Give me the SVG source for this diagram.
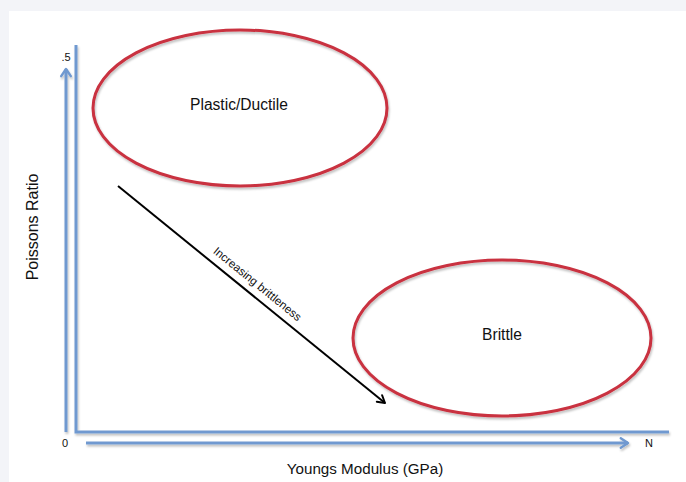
<svg xmlns="http://www.w3.org/2000/svg" width="686" height="482" viewBox="0 0 686 482">
<defs>
<style>
.ax{stroke:#7099d0;stroke-width:3;fill:none;stroke-linecap:butt}
.el{fill:none;stroke:#c9303f;stroke-width:3}
.t{font-family:"Liberation Sans",Arial,sans-serif;fill:#111}
</style>
<filter id="sh" x="-10%" y="-10%" width="120%" height="120%">
<feDropShadow dx="1" dy="2" stdDeviation="1.2" flood-color="#000" flood-opacity="0.25"/>
</filter>
<marker id="ba" viewBox="0 0 10 10" refX="8" refY="5" markerWidth="4" markerHeight="4" orient="auto" markerUnits="strokeWidth">
<path d="M2,1 L8,5 L2,9" fill="none" stroke="#7099d0" stroke-width="2" stroke-linecap="round" stroke-linejoin="round"/>
</marker>
<marker id="ka" viewBox="0 0 10 10" refX="8" refY="5" markerWidth="6" markerHeight="6" orient="auto" markerUnits="strokeWidth">
<path d="M2,1.5 L8,5 L2,8.5" fill="none" stroke="#000" stroke-width="1.6" stroke-linecap="round" stroke-linejoin="round"/>
</marker>
</defs>
<rect width="686" height="482" fill="#f3f4f8"/>
<rect x="9" y="11" width="677" height="471" fill="#fff"/>
<g id="axes" filter="url(#sh)">
<polyline class="ax" points="76,45 76,432 669,432"/>
<line class="ax" x1="66" y1="432" x2="66" y2="69" marker-end="url(#ba)"/>
<line class="ax" x1="86" y1="443" x2="628" y2="443" marker-end="url(#ba)"/>
</g>
<g id="axis-labels">
<text class="t" x="66" y="61" font-size="11" text-anchor="middle">.5</text>
<text class="t" x="65" y="447" font-size="11" text-anchor="middle">0</text>
<text class="t" x="649" y="447" font-size="11" text-anchor="middle">N</text>
<text class="t" transform="translate(38,227) rotate(-90)" font-size="16" text-anchor="middle">Poissons Ratio</text>
<text class="t" x="365" y="474" font-size="15.2" text-anchor="middle">Youngs Modulus (GPa)</text>
</g>
<g id="plastic">
<ellipse class="el" cx="240" cy="108" rx="147" ry="78" filter="url(#sh)"/>
<text class="t" x="239" y="110" font-size="15.6" text-anchor="middle">Plastic/Ductile</text>
</g>
<g id="brittle">
<ellipse class="el" cx="502" cy="338" rx="149" ry="78" filter="url(#sh)"/>
<text class="t" x="502" y="340" font-size="15.6" text-anchor="middle">Brittle</text>
</g>
<g id="connectors">
<line x1="118" y1="186" x2="385" y2="403" stroke="#000" stroke-width="2" marker-end="url(#ka)"/>
<text class="t" transform="translate(255,287) rotate(39.1)" font-size="11.6" text-anchor="middle" fill="#222">Increasing brittleness</text>
</g>
</svg>
